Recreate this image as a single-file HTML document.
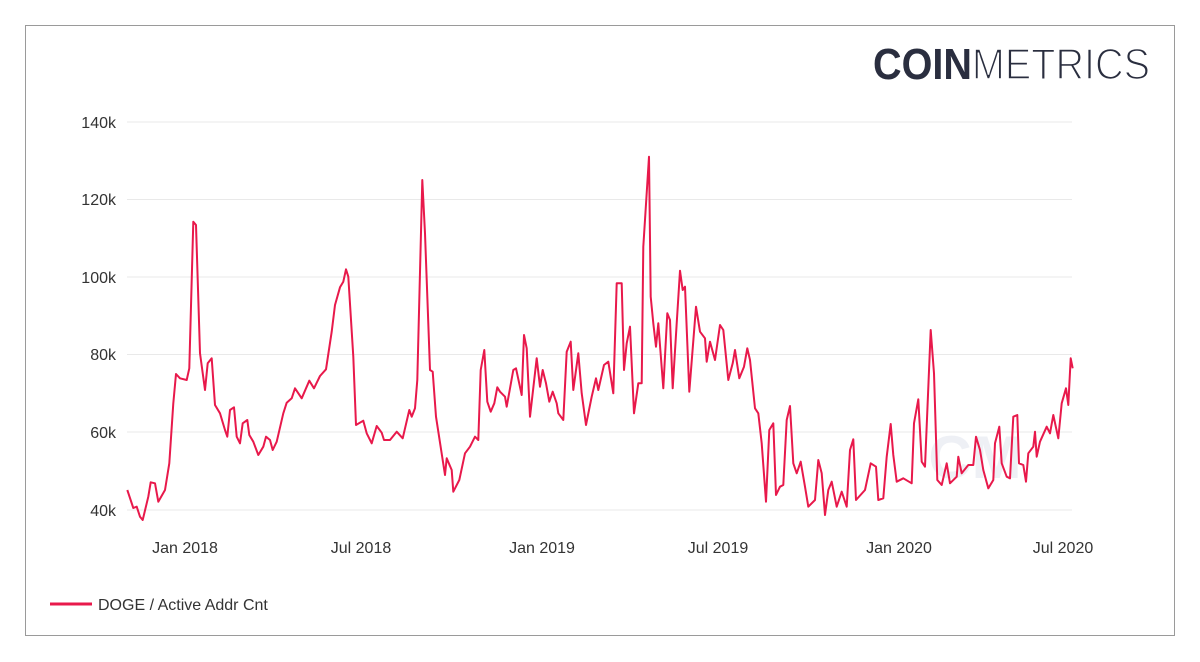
<!DOCTYPE html>
<html><head><meta charset="utf-8"><style>
html,body{margin:0;padding:0;background:#fff;}
body{width:1200px;height:662px;position:relative;overflow:hidden;font-family:"Liberation Sans",sans-serif;}
</style></head><body>
<svg width="1200" height="662" viewBox="0 0 1200 662" xmlns="http://www.w3.org/2000/svg" style="position:absolute;left:0;top:0">
<rect x="25.5" y="25.5" width="1149" height="610" fill="#fff" stroke="#9a9a9a" stroke-width="1"/>
<text x="873" y="79" font-family="Liberation Sans,sans-serif" font-size="44" fill="#2a2e3f" textLength="277" lengthAdjust="spacingAndGlyphs"><tspan font-weight="bold">COIN</tspan><tspan font-weight="normal" stroke="#fff" stroke-width="1.6" paint-order="normal">METRICS</tspan></text>
<g stroke="#e9e9e9" stroke-width="1">
<line x1="127" x2="1072" y1="122" y2="122"/>
<line x1="127" x2="1072" y1="199.5" y2="199.5"/>
<line x1="127" x2="1072" y1="277" y2="277"/>
<line x1="127" x2="1072" y1="354.5" y2="354.5"/>
<line x1="127" x2="1072" y1="432" y2="432"/>
<line x1="127" x2="1072" y1="510" y2="510"/>
</g>
<text x="975" y="478" font-size="60" fill="#eef0f5" text-anchor="middle" font-weight="bold">CM</text>
<g font-size="16" fill="#333" text-anchor="end">
<text x="116" y="128">140k</text>
<text x="116" y="205">120k</text>
<text x="116" y="283">100k</text>
<text x="116" y="360">80k</text>
<text x="116" y="438">60k</text>
<text x="116" y="516">40k</text>
</g>
<g font-size="16" fill="#333" text-anchor="middle">
<text x="185" y="553">Jan 2018</text>
<text x="361" y="553">Jul 2018</text>
<text x="542" y="553">Jan 2019</text>
<text x="718" y="553">Jul 2019</text>
<text x="899" y="553">Jan 2020</text>
<text x="1063" y="553">Jul 2020</text>
</g>
<polyline fill="none" stroke="#e8194b" stroke-width="2" stroke-linejoin="round" points="127.3,490 133.3,508 136.7,506.7 140,516.7 142.7,520 148.3,496.7 150.7,482.3 155,483.3 158.3,501.7 165,490 169.3,463.3 173.3,403.3 176,374 180,378.3 186.7,380 189.3,368.3 193.3,221.7 196,225 200,353.3 205,390 207.7,363.3 211.7,358.3 215,405 220,413.3 225,430 227.3,436.7 230,410 234,407.3 236.7,436.7 240,443.3 242.7,423.3 247.3,420 249.3,435 253.3,441.7 258.3,455 263.3,446.7 266,436.7 270,440 272.7,450 276.7,441.7 283.3,413.3 286.7,402.7 291.7,398.3 295,388.3 301.7,398.3 309.3,380.7 314,388.3 320,376 326,369.3 331.7,331.7 335,305 340,287.3 343.3,281.7 346,269.3 348.3,276.7 353.3,356.7 356,425 363.3,420.7 366.7,433.3 371.7,443.3 376.7,426 381.7,432.7 384,440 390,440 396.7,431.7 402.7,438.3 409.3,410 411.7,416.7 415,408.3 417.3,380 422.3,180 425,233.3 430,370 432.7,371.7 436,416.7 445,475 446.7,458.3 451.7,470 453.3,491.7 459.3,480 465,453.3 470,446.7 475,436.7 478.3,440 480.7,370 484.3,350 487.3,401.7 490.7,411.7 494.3,403.3 497.3,387.3 500,391.7 505,396.7 506.7,406.7 513.3,370 516,368.3 521.7,395 524,335 526.7,348.3 530,416.7 536.7,358.3 540,386.7 542.7,370 546,383.3 549.3,401.7 552.7,391.7 556.7,403.3 558.3,413.3 563.3,420 566.7,351.7 570.7,341.7 573.3,390 578.3,353.3 581.7,393.3 586,425 591.7,396.7 596,378.3 598.3,390 604,365 608.3,361.7 613.3,393.3 616.7,283.3 621.7,283.3 624,370 626.7,343.3 630,326.7 634,413.3 638.3,383.3 641.7,383.3 643.3,246.7 649,156.7 650.7,296.7 653.3,323.3 656,346.7 658.3,323.3 663.3,388.3 667.3,313.3 670,320 672.7,388.3 676.7,323.3 680,270.7 682.7,290 685,286.7 689.3,391.7 696,306.7 700,331.7 705,338.3 706.7,361.7 710,341.7 715,360 720,325 723.3,330 728.3,380 732.7,363.3 735,350 739.3,378.3 744,366.7 747.3,348.3 750,360 755,408.3 758.3,413.3 761.7,443.3 766,501.7 769.3,430 773.3,423.3 776,495 780,486.7 783.3,485 786.7,420 790,406 793.3,463.3 796.7,473.3 800.7,461.7 805,486.7 808.3,506.7 815,500 818.3,460 821.7,473.3 825,515 828.3,490 831.7,481.7 836.7,506.7 841.7,491.7 846.7,506.7 850,450 853.3,439.3 856,500 865,490 870.7,463.3 876,466.7 878.3,500 883.3,498.3 886.7,456.7 890.7,424 893.3,455 896.7,481.7 903.3,478.3 911.7,483.3 914,423.3 918.3,399.3 921.7,461.7 925,466.7 930.7,330 934,373.3 937.3,480 941.7,485 946.7,463.3 950,483.3 956.7,476.7 958.3,456.7 961.7,473.3 968.3,465 973.3,465 976,436.7 980,450 983.3,470 988.3,488.3 993.3,480 995,443.3 999.3,426.7 1001.7,463.3 1006.7,476.7 1010,478.3 1013.3,416.7 1017.3,415 1019,463.3 1023.3,465 1026,481.7 1028.3,453.3 1033.3,446.7 1035,431.7 1036.7,456.7 1040,441.7 1046.7,426.7 1050,433.3 1053.3,415 1058.3,438.3 1061.7,403.3 1066,388.3 1068.3,405 1070.7,358.3 1072.7,368.3"/>
<line x1="50" x2="92" y1="604" y2="604" stroke="#e8194b" stroke-width="3"/>
<text x="98" y="610" font-size="16" fill="#333">DOGE / Active Addr Cnt</text>
</svg>
</body></html>
